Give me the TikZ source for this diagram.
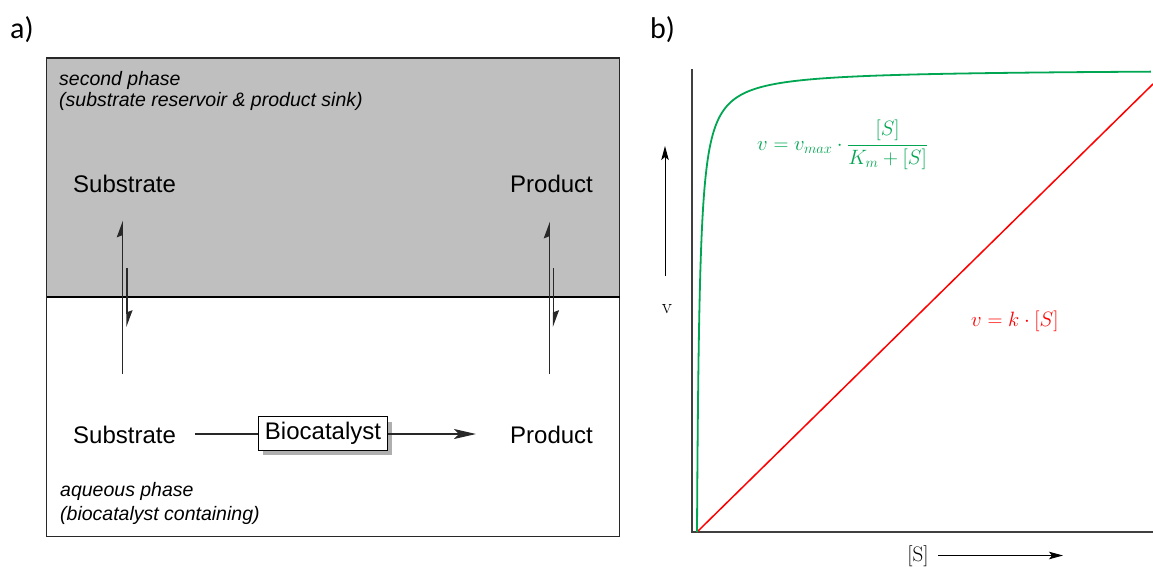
\documentclass[tikz,border=0pt]{standalone}
\usepackage{fontspec}
\usetikzlibrary{arrows.meta,shadows}
\newfontfamily\arialf{Liberation Sans}
\newfontfamily\calibf{Carlito}
\definecolor{phasegray}{RGB}{191,191,191}
\definecolor{boxline}{RGB}{40,40,40}
\definecolor{axisgray}{RGB}{64,64,64}
\definecolor{mmgreen}{RGB}{0,166,81}
\definecolor{linred}{RGB}{255,0,0}
\definecolor{shadowgray}{RGB}{175,175,175}
\begin{document}
\begin{tikzpicture}[x=1pt,y=-1pt,
  lbl/.style={inner sep=0pt, anchor=base west, font=\arialf\fontsize{24}{28}\selectfont},
  ital/.style={inner sep=0pt, anchor=base west, font=\arialf\itshape\fontsize{19.5}{22}\selectfont},
  panellbl/.style={inner sep=0pt, anchor=base west, font=\calibf\fontsize{30}{34}\selectfont},
  harp/.style={line width=1.3pt, boxline, -{Stealth[left,length=15pt,width=11pt,inset=2pt]}},
  conn/.style={line width=1.3pt, boxline},
  axis/.style={line width=2pt, axisgray},
  axarrow/.style={line width=1pt, black, -{Stealth[length=14pt,width=7.5pt,inset=3pt]}},
  mathlbl/.style={inner sep=0pt, anchor=base west, font=\fontsize{20}{24}\selectfont},
]
\useasboundingbox (0,0) rectangle (1153,566);

% panel labels
\node[panellbl] (pa) at (10,38.5) {a)};
\node[panellbl] (pb) at (650,38.5) {b)};

% ---------- panel a ----------
\fill[phasegray] (46.5,58) rectangle (619.5,297);
\draw[line width=1.5pt, boxline] (46.5,58) rectangle (619.5,536.5);
\draw[line width=1.5pt, black] (46.5,297) -- (619.5,297);

\node[ital] (sp1) at (59,85) {second phase};
\node[ital] (sp2) at (59,106.5) {(substrate reservoir \& product sink)};
\node[ital] (aq1) at (60,496.7) {aqueous phase};
\node[ital] (aq2) at (60,520) {(biocatalyst containing)};

\node[lbl] (subup) at (73,192.7) {Substrate};
\node[lbl] (produp) at (510,192.7) {Product};
\node[lbl] (sublow) at (73,443.5) {Substrate};
\node[lbl] (prodlow) at (510,443.5) {Product};

\node[draw=black, line width=1.3pt, fill=white, inner sep=0pt,
      minimum width=129pt, minimum height=33.6pt,
      font=\arialf\fontsize{24}{28}\selectfont,
      drop shadow={shadow xshift=4.5pt, shadow yshift=-5pt, fill=shadowgray, opacity=1}]
      (bio) at (323,433.5) {Biocatalyst};

\draw[conn] (195,434) -- (bio.west |- 0,434);
\coordinate (arrend) at (476,434);
\draw[conn, -{Stealth[length=22pt,width=10pt,inset=5pt]}] (bio.east |- 0,434) -- (arrend);

% equilibrium harpoons
\coordinate (l1b) at (122.3,373.5);
\coordinate (l1t) at (122.3,220.5);
\coordinate (l2t) at (127,268);
\coordinate (l2b) at (127,327);
\coordinate (r1b) at (549.3,373.5);
\coordinate (r1t) at (549.3,221.5);
\coordinate (r2t) at (553.5,268);
\coordinate (r2b) at (553.5,327);
\draw[harp] (l1b) -- (l1t);
\draw[harp] (l2t) -- (l2b);
\draw[harp] (r1b) -- (r1t);
\draw[harp] (r2t) -- (r2b);

% ---------- panel b ----------
\coordinate (orig) at (692,532.3);
\coordinate (ytop) at (692,69);
\coordinate (xend) at (1153,532.3);
\draw[axis] (ytop) -- (orig) -- (xend);

\draw[linred, line width=1.5pt] (697,532) -- (1153,84);
\draw[mmgreen, line width=1.8pt] plot[domain=0:1, samples=400, variable=\t]
  ({697+456*\t*\t*\t}, {532-463*((456*\t*\t*\t)/(2.6+456*\t*\t*\t))});

\node[mathlbl, text=mmgreen] (mm) at (757,150)
  {$v = v_{max}\cdot\displaystyle\frac{[S]}{K_m+[S]}$};
\node[mathlbl, text=linred] (lin) at (971,326.7) {$v = k\cdot[S]$};

\node[inner sep=0pt, anchor=base, font=\rmfamily\fontsize{21}{24}\selectfont] (vlab) at (667,313) {v};
\coordinate (vab) at (665,276);
\coordinate (vat) at (665,146);
\draw[axarrow] (vab) -- (vat);

\node[inner sep=0pt, anchor=base, font=\rmfamily\fontsize{21}{24}\selectfont] (slab) at (918,561.5) {[S]};
\coordinate (sab) at (938,555.5);
\coordinate (sae) at (1063,555.5);
\draw[axarrow] (sab) -- (sae);
\end{tikzpicture}
\end{document}
